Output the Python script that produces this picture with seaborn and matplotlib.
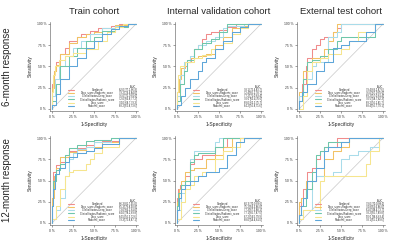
import numpy as np
import pandas as pd
import seaborn as sns
import matplotlib.pyplot as plt

sns.set_style("ticks")
plt.rcParams['font.family'] = ['Liberation Sans', 'DejaVu Sans']

models = ["Combined", "Deep_score+Radiomic_score", "Clinical factor+Deep_score",
          "Clinical factor+Radiomic_score", "Deep_score", "Radiomic_score"]
colors = ["#F08C8C", "#F2C265", "#A9DCEA", "#6FC7AA", "#F6E58E", "#5EA6D9"]
cohorts = ["Train cohort", "Internal validation cohort", "External test cohort"]
responses = ["6-month response", "12-month response"]
tick_vals = [0, 0.25, 0.5, 0.75, 1]
tick_labels = ["0 %", "25 %", "50 %", "75 %", "100 %"]

# ROC points (fpr, tpr)
train_6m = {
    "Combined": [(0, 0), (0.02, 0.3), (0.05, 0.45), (0.1, 0.55), (0.15, 0.65), (0.2, 0.72), (0.3, 0.8),
                 (0.35, 0.85), (0.45, 0.88), (0.55, 0.92), (0.7, 0.95), (0.8, 0.98), (0.9, 1), (1, 1)],
    "Deep_score+Radiomic_score": [(0, 0), (0.02, 0.25), (0.05, 0.45), (0.1, 0.52), (0.2, 0.65), (0.3, 0.78),
                                  (0.4, 0.85), (0.5, 0.88), (0.6, 0.9), (0.75, 0.95), (0.9, 0.99), (1, 1)],
    "Clinical factor+Deep_score": [(0, 0), (0.03, 0.15), (0.08, 0.35), (0.15, 0.5), (0.25, 0.62), (0.35, 0.72),
                                   (0.45, 0.8), (0.6, 0.88), (0.75, 0.95), (0.9, 0.98), (1, 1)],
    "Clinical factor+Radiomic_score": [(0, 0), (0.05, 0.1), (0.1, 0.3), (0.2, 0.5), (0.3, 0.62), (0.4, 0.72),
                                       (0.5, 0.8), (0.6, 0.85), (0.75, 0.92), (0.9, 0.97), (1, 1)],
    "Deep_score": [(0, 0), (0.01, 0.2), (0.03, 0.4), (0.08, 0.5), (0.15, 0.58), (0.25, 0.62), (0.4, 0.66),
                   (0.55, 0.7), (0.65, 0.8), (0.75, 0.9), (0.85, 0.96), (1, 1)],
    "Radiomic_score": [(0, 0), (0.05, 0.05), (0.1, 0.18), (0.2, 0.35), (0.3, 0.5), (0.4, 0.6), (0.5, 0.72),
                       (0.6, 0.8), (0.7, 0.88), (0.8, 0.94), (0.9, 0.98), (1, 1)],
}
internal_6m = {
    "Combined": [(0, 0), (0.03, 0.2), (0.08, 0.4), (0.12, 0.5), (0.17, 0.55), (0.2, 0.6), (0.25, 0.7),
                 (0.3, 0.75), (0.35, 0.82), (0.4, 0.88), (0.5, 0.9), (0.6, 0.93), (0.7, 0.97), (0.8, 1), (1, 1)],
    "Deep_score+Radiomic_score": [(0, 0), (0.02, 0.2), (0.05, 0.35), (0.1, 0.48), (0.15, 0.55), (0.25, 0.6),
                                  (0.35, 0.62), (0.45, 0.65), (0.55, 0.75), (0.65, 0.85), (0.75, 0.95),
                                  (0.85, 0.98), (1, 1)],
    "Clinical factor+Deep_score": [(0, 0), (0.03, 0.15), (0.08, 0.4), (0.15, 0.55), (0.2, 0.62), (0.25, 0.7),
                                   (0.35, 0.75), (0.45, 0.8), (0.55, 0.85), (0.6, 0.95), (0.8, 0.98), (1, 1)],
    "Clinical factor+Radiomic_score": [(0, 0), (0.03, 0.1), (0.08, 0.3), (0.12, 0.45), (0.2, 0.58), (0.3, 0.7),
                                       (0.4, 0.78), (0.5, 0.82), (0.6, 0.9), (0.75, 1), (1, 1)],
    "Deep_score": [(0, 0), (0.01, 0.2), (0.04, 0.4), (0.1, 0.5), (0.2, 0.55), (0.3, 0.6), (0.4, 0.63),
                   (0.55, 0.7), (0.65, 0.78), (0.75, 0.88), (0.85, 0.95), (1, 1)],
    "Radiomic_score": [(0, 0), (0.05, 0.05), (0.1, 0.15), (0.15, 0.25), (0.25, 0.35), (0.3, 0.45), (0.35, 0.55),
                       (0.45, 0.6), (0.55, 0.7), (0.65, 0.8), (0.75, 0.9), (0.85, 0.97), (1, 1)],
}
external_6m = {
    "Combined": [(0, 0), (0.03, 0.15), (0.08, 0.3), (0.1, 0.5), (0.15, 0.6), (0.2, 0.7), (0.25, 0.75),
                 (0.3, 0.82), (0.4, 0.85), (0.45, 0.9), (0.5, 0.95), (0.6, 1), (1, 1)],
    "Deep_score+Radiomic_score": [(0, 0), (0.05, 0.2), (0.1, 0.45), (0.15, 0.55), (0.3, 0.6), (0.35, 0.7),
                                  (0.4, 0.8), (0.45, 0.9), (0.5, 1), (1, 1)],
    "Clinical factor+Deep_score": [(0, 0), (0.05, 0.15), (0.15, 0.35), (0.2, 0.5), (0.35, 0.55), (0.45, 0.85),
                                   (0.5, 0.9), (0.6, 1), (1, 1)],
    "Clinical factor+Radiomic_score": [(0, 0), (0.05, 0.1), (0.1, 0.35), (0.15, 0.55), (0.25, 0.58),
                                       (0.35, 0.62), (0.45, 0.7), (0.5, 0.8), (0.6, 0.85), (0.9, 0.85),
                                       (0.95, 1), (1, 1)],
    "Deep_score": [(0, 0), (0.05, 0), (0.1, 0.15), (0.15, 0.45), (0.25, 0.55), (0.35, 0.6), (0.5, 0.65),
                   (0.6, 0.7), (0.7, 0.8), (0.8, 0.9), (0.9, 0.9), (1, 1)],
    "Radiomic_score": [(0, 0), (0.03, 0.1), (0.1, 0.2), (0.2, 0.3), (0.3, 0.45), (0.4, 0.55), (0.5, 0.72),
                       (0.6, 0.75), (0.8, 0.8), (0.9, 0.9), (1, 1)],
}
train_12m = {
    "Combined": [(0, 0), (0.01, 0.3), (0.05, 0.6), (0.1, 0.68), (0.15, 0.72), (0.2, 0.78), (0.3, 0.85),
                 (0.4, 0.88), (0.5, 0.92), (0.6, 0.95), (0.8, 0.97), (0.9, 1), (1, 1)],
    "Deep_score+Radiomic_score": [(0, 0), (0.02, 0.3), (0.05, 0.55), (0.1, 0.65), (0.2, 0.78), (0.3, 0.83),
                                  (0.4, 0.86), (0.6, 0.9), (0.8, 0.95), (1, 1)],
    "Clinical factor+Deep_score": [(0, 0), (0.05, 0.05), (0.1, 0.15), (0.15, 0.3), (0.2, 0.55), (0.25, 0.75),
                                   (0.3, 0.82), (0.4, 0.87), (0.5, 0.9), (0.7, 0.95), (1, 1)],
    "Clinical factor+Radiomic_score": [(0, 0), (0.01, 0.2), (0.05, 0.5), (0.1, 0.62), (0.15, 0.7), (0.2, 0.8),
                                       (0.3, 0.88), (0.4, 0.92), (0.5, 0.96), (0.7, 0.98), (1, 1)],
    "Deep_score": [(0, 0), (0.05, 0.05), (0.1, 0.2), (0.15, 0.4), (0.2, 0.55), (0.25, 0.6), (0.4, 0.62),
                   (0.45, 0.7), (0.5, 0.75), (0.6, 0.82), (0.8, 0.9), (1, 1)],
    "Radiomic_score": [(0, 0), (0.01, 0.2), (0.03, 0.4), (0.08, 0.58), (0.15, 0.65), (0.2, 0.72), (0.3, 0.78),
                       (0.4, 0.82), (0.5, 0.85), (0.6, 0.88), (0.8, 0.93), (1, 1)],
}
internal_12m = {
    "Combined": [(0, 0), (0.01, 0.3), (0.03, 0.4), (0.1, 0.45), (0.15, 0.55), (0.2, 0.7), (0.3, 0.75),
                 (0.35, 0.8), (0.45, 0.8), (0.6, 0.9), (0.7, 1), (1, 1)],
    "Deep_score+Radiomic_score": [(0, 0), (0.02, 0.25), (0.05, 0.4), (0.1, 0.5), (0.15, 0.6), (0.2, 0.62),
                                  (0.35, 0.65), (0.45, 0.75), (0.55, 0.8), (0.65, 0.9), (0.8, 1), (1, 1)],
    "Clinical factor+Deep_score": [(0, 0), (0.05, 0.15), (0.1, 0.35), (0.15, 0.5), (0.2, 0.75), (0.25, 0.85),
                                   (0.45, 0.85), (0.5, 0.95), (0.6, 1), (1, 1)],
    "Clinical factor+Radiomic_score": [(0, 0), (0.01, 0.2), (0.05, 0.35), (0.1, 0.45), (0.15, 0.5), (0.2, 0.72),
                                       (0.25, 0.8), (0.45, 0.82), (0.55, 0.9), (0.75, 1), (1, 1)],
    "Deep_score": [(0, 0), (0.05, 0.05), (0.1, 0.25), (0.15, 0.4), (0.2, 0.45), (0.3, 0.55), (0.45, 0.6),
                   (0.55, 0.75), (0.65, 0.85), (0.75, 0.9), (0.85, 1), (1, 1)],
    "Radiomic_score": [(0, 0), (0.02, 0.15), (0.05, 0.3), (0.1, 0.4), (0.15, 0.45), (0.25, 0.5), (0.35, 0.55),
                       (0.5, 0.6), (0.6, 0.65), (0.7, 0.8), (0.8, 0.95), (0.9, 1), (1, 1)],
}
external_12m = {
    "Combined": [(0, 0), (0.02, 0.2), (0.05, 0.3), (0.1, 0.4), (0.15, 0.6), (0.2, 0.65), (0.25, 0.75),
                 (0.3, 0.85), (0.35, 0.9), (0.45, 0.9), (0.6, 1), (1, 1)],
    "Deep_score+Radiomic_score": [(0, 0), (0.02, 0.25), (0.08, 0.3), (0.2, 0.5), (0.3, 0.55), (0.4, 0.75),
                                  (0.5, 0.85), (0.6, 0.9), (0.7, 1), (1, 1)],
    "Clinical factor+Deep_score": [(0, 0), (0.05, 0.1), (0.15, 0.15), (0.2, 0.5), (0.4, 0.55), (0.5, 0.6),
                                   (0.6, 0.75), (0.7, 0.8), (0.85, 0.85), (0.95, 0.9), (1, 1)],
    "Clinical factor+Radiomic_score": [(0, 0), (0.02, 0.1), (0.08, 0.2), (0.15, 0.4), (0.2, 0.6), (0.25, 0.8),
                                       (0.3, 0.85), (0.35, 0.9), (0.6, 0.95), (0.7, 1), (1, 1)],
    "Deep_score": [(0, 0), (0.05, 0.05), (0.1, 0.15), (0.25, 0.15), (0.3, 0.5), (0.8, 0.55), (0.85, 0.7),
                   (0.95, 0.85), (1, 1)],
    "Radiomic_score": [(0, 0), (0.02, 0.1), (0.05, 0.2), (0.1, 0.3), (0.2, 0.5), (0.3, 0.65), (0.35, 0.85),
                       (0.5, 0.9), (0.6, 0.95), (0.7, 1), (1, 1)],
}

auc_train_6m = ["82.0 [77.1,86.9]", "79.2 [74.4,84.0]", "76.0 [71.0,81.0]",
                "72.0 [66.8,77.2]", "74.0 [68.7,79.3]", "68.2 [62.8,73.6]"]
auc_internal_6m = ["78.1 [72.4,83.7]", "72.4 [66.1,78.7]", "77.2 [71.0,83.4]",
                   "70.0 [63.4,76.6]", "69.0 [62.3,75.7]", "64.2 [56.8,71.6]"]
auc_external_6m = ["79.4 [69.2,87.6]", "76.0 [67.0,85.0]", "69.2 [57.0,81.4]",
                   "70.5 [58.7,82.3]", "69.2 [56.1,81.7]", "68.4 [56.7,79.1]"]
auc_train_12m = ["86.3 [81.7,91.0]", "85.3 [79.8,90.8]", "73.0 [66.1,81.0]",
                 "84.0 [78.2,89.8]", "64.5 [56.3,72.6]", "79.3 [72.8,87.1]"]
auc_internal_12m = ["80.3 [70.9,89.6]", "75.2 [64.3,86.0]", "77.3 [67.3,88.1]",
                    "77.1 [66.7,87.5]", "67.2 [54.5,79.9]", "68.0 [54.4,81.5]"]
auc_external_12m = ["79.0 [70.0,88.0]", "74.8 [63.6,86.0]", "61.0 [48.4,73.7]",
                    "78.2 [66.7,89.8]", "50.0 [36.6,63.4]", "78.1 [65.2,89.6]"]

panels = [[(train_6m, auc_train_6m), (internal_6m, auc_internal_6m), (external_6m, auc_external_6m)],
          [(train_12m, auc_train_12m), (internal_12m, auc_internal_12m), (external_12m, auc_external_12m)]]

W, H = 400, 240
fig = plt.figure(figsize=(4, 2.4), dpi=100)

# pixel positions of data 0 (x) and data 1 (y) for each panel
col_x0 = [52, 177, 299]
col_w = 84
row_ytop = [24, 138]
row_h = 85
pad = 0.02
fs_leg = 1.8

for r in range(2):
    for c in range(3):
        curves, aucs = panels[r][c]
        x0 = col_x0[c] - pad * col_w
        w = col_w * (1 + 2 * pad)
        ytop = row_ytop[r] - pad * row_h
        h = row_h * (1 + 2 * pad)
        ax = fig.add_axes([x0 / W, 1 - (ytop + h) / H, w / W, h / H])
        rows = []
        for m in models:
            for fx, ty in curves[m]:
                rows.append({"model": m, "fpr": fx, "tpr": ty})
        df = pd.DataFrame(rows)
        ax.plot([0, 1], [0, 1], color="#C8C8C8", lw=0.5, zorder=1)
        sns.lineplot(data=df, x="fpr", y="tpr", hue="model", hue_order=models, palette=colors,
                     sort=False, estimator=None, drawstyle="steps-pre", lw=0.75, legend=False, ax=ax)
        ax.set_xlim(-pad, 1 + pad)
        ax.set_ylim(-pad, 1 + pad)
        ax.set_xticks(tick_vals)
        ax.set_xticklabels(tick_labels)
        ax.set_yticks(tick_vals)
        ax.set_yticklabels(tick_labels)
        ax.tick_params(labelsize=2.4, length=1.5, width=0.4, pad=1.5, color="#555555", labelcolor="#333333")
        sns.despine(ax=ax)
        for s in ["left", "bottom"]:
            ax.spines[s].set_linewidth(0.4)
            ax.spines[s].set_color("#555555")
        ax.set_xlabel("1-Specificity", fontsize=3.6, labelpad=2)
        ax.set_ylabel("Sensitivity", fontsize=3.4, labelpad=2.5)

        # legend with AUC column
        top = 0.235
        step = 0.036
        ax.text(0.94, top + step, "AUC", fontsize=fs_leg, ha="center", va="center", transform=ax.transAxes)
        for i, m in enumerate(models):
            yy = top - i * step
            ax.plot([0.2, 0.27], [yy, yy], color=colors[i], lw=0.8, transform=ax.transAxes)
            ax.text(0.535, yy, m, fontsize=fs_leg, ha="center", va="center", transform=ax.transAxes)
            ax.text(0.785, yy, aucs[i], fontsize=fs_leg, ha="left", va="center", transform=ax.transAxes)

        if r == 0:
            fig.text((col_x0[c] + col_w / 2) / W, 1 - 12 / H, cohorts[c], fontsize=6.8,
                     ha="center", va="center")
    fig.text(7 / W, 1 - (row_ytop[r] + row_h / 2) / H, responses[r], fontsize=7,
             rotation=90, ha="center", va="center")

fig.savefig("out.png", dpi=100)
